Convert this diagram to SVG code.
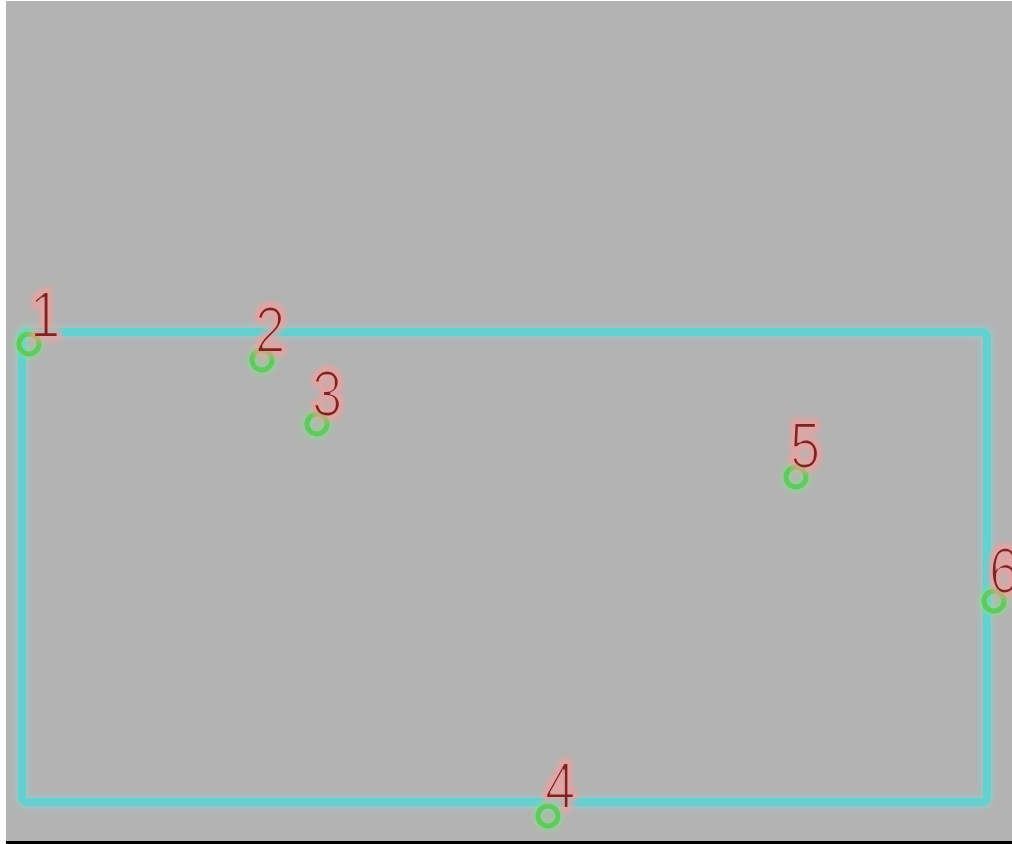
<svg xmlns="http://www.w3.org/2000/svg" width="1012" height="844" viewBox="0 0 1012 844">
<defs>
<style>
.num{font-family:"Liberation Sans",Arial,sans-serif;font-size:64px}
.glow{fill:#ff9a9a;stroke:#ff9a9a;stroke-width:10;stroke-linejoin:round;opacity:0.6;filter:url(#blur)}
.core{fill:#7e2424;filter:url(#thin)}
.ring{fill:none;stroke:#62c862;stroke-width:5}
.ringglow{fill:none;stroke:#80e880;stroke-width:11;opacity:0.5;filter:url(#blur)}
</style>
<filter id="blur" x="-50%" y="-50%" width="200%" height="200%"><feGaussianBlur stdDeviation="2.5"/></filter>
<filter id="thin" x="-20%" y="-20%" width="140%" height="140%"><feMorphology operator="erode" radius="0.6"/></filter>
</defs>
<rect x="0" y="0" width="1012" height="844" fill="#ffffff"/>
<rect x="6" y="1" width="1006" height="840" fill="#b3b3b3"/>
<rect x="6" y="841" width="1006" height="3" fill="#000000"/>
<g id="connectors">
<rect x="22" y="332" width="965" height="470" rx="5" fill="none" stroke="#7fe0e0" stroke-width="13" opacity="0.45" filter="url(#blur)"/>
<rect x="22" y="332" width="965" height="470" rx="5" fill="none" stroke="#66cfcf" stroke-width="8"/>
</g>
<g id="node1">
<circle class="ringglow" cx="29" cy="344" r="10"/><circle class="ring" cx="29" cy="344" r="10"/>
<text class="num glow" x="30" y="337" transform="translate(30 337) scale(0.85 1) translate(-30 -337)">1</text>
<text class="num core" x="30" y="337" transform="translate(30 337) scale(0.85 1) translate(-30 -337)">1</text>
</g>
<g id="node2">
<circle class="ringglow" cx="262" cy="360" r="10"/><circle class="ring" cx="262" cy="360" r="10"/>
<text class="num glow" x="255" y="352" transform="translate(255 352) scale(0.85 1) translate(-255 -352)">2</text>
<text class="num core" x="255" y="352" transform="translate(255 352) scale(0.85 1) translate(-255 -352)">2</text>
</g>
<g id="node3">
<circle class="ringglow" cx="317" cy="424" r="10"/><circle class="ring" cx="317" cy="424" r="10"/>
<text class="num glow" x="312" y="416" transform="translate(312 416) scale(0.85 1) translate(-312 -416)">3</text>
<text class="num core" x="312" y="416" transform="translate(312 416) scale(0.85 1) translate(-312 -416)">3</text>
</g>
<g id="node4">
<circle class="ringglow" cx="548" cy="816" r="10"/><circle class="ring" cx="548" cy="816" r="10"/>
<text class="num glow" x="545" y="808" transform="translate(545 808) scale(0.85 1) translate(-545 -808)">4</text>
<text class="num core" x="545" y="808" transform="translate(545 808) scale(0.85 1) translate(-545 -808)">4</text>
</g>
<g id="node5">
<circle class="ringglow" cx="796" cy="477" r="10"/><circle class="ring" cx="796" cy="477" r="10"/>
<text class="num glow" x="790" y="468" transform="translate(790 468) scale(0.85 1) translate(-790 -468)">5</text>
<text class="num core" x="790" y="468" transform="translate(790 468) scale(0.85 1) translate(-790 -468)">5</text>
</g>
<g id="node6">
<circle class="ringglow" cx="994" cy="601" r="10"/><circle class="ring" cx="994" cy="601" r="10"/>
<text class="num glow" x="989" y="593" transform="translate(989 593) scale(0.85 1) translate(-989 -593)">6</text>
<text class="num core" x="989" y="593" transform="translate(989 593) scale(0.85 1) translate(-989 -593)">6</text>
</g>
</svg>
